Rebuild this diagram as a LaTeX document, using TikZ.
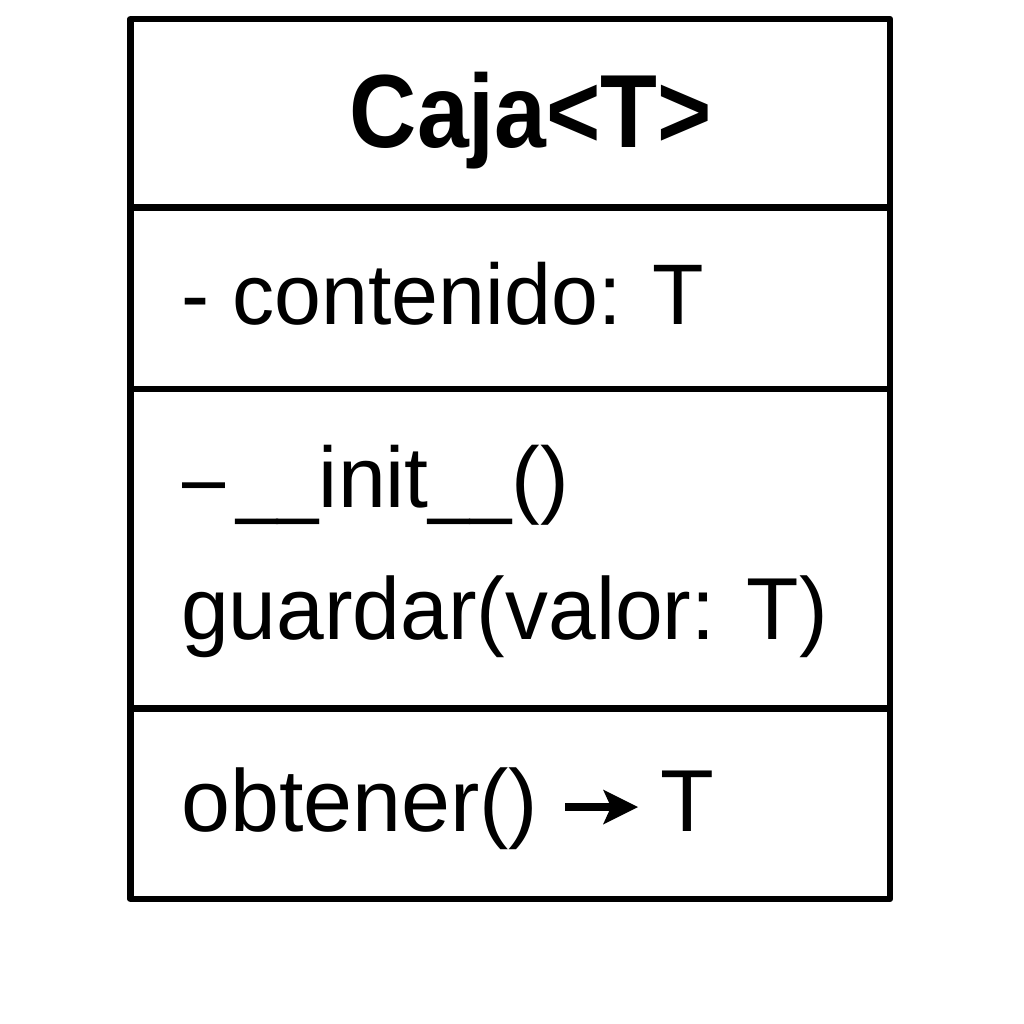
\documentclass[tikz,border=0pt]{standalone}
\usepackage{fontspec}
\usepackage{graphicx}
\setmainfont{Liberation Sans}
\begin{document}
\begin{tikzpicture}[x=1pt,y=-1pt,
  frame/.style={draw=black,line width=6.5pt,line join=round},
  sep/.style={draw=black,line width=6.5pt},
  txt/.style={anchor=base west,inner sep=0pt,font=\fontsize{86}{96}\selectfont},
  ttl/.style={anchor=base,inner sep=0pt,font=\fontsize{104}{114}\selectfont\bfseries},
  shaft/.style={draw=black,line width=8pt},
  head/.style={fill=black}]
\useasboundingbox (0,0) rectangle (1024,1024);
\coordinate (tl) at (130.5,19); \coordinate (br) at (890,899);
\draw[frame] (tl) rectangle (br);
\coordinate (l1) at (130.5,207.5); \coordinate (r1) at (890,207.5);
\coordinate (l2) at (130.5,389); \coordinate (r2) at (890,389);
\coordinate (l3) at (130.5,708.5); \coordinate (r3) at (890,708.5);
\draw[sep] (l1) -- (r1);
\draw[sep] (l2) -- (r2);
\draw[sep] (l3) -- (r3);
\node[ttl] (title) at (531,148) {\scalebox{0.895}[1]{Caja<T>}};
\node[txt] (attr) at (181,324) {\scalebox{0.98}[1]{- contenido: T}};
\node[txt] (m1) at (182,507) {\scalebox{0.9}[1]{–}\kern11pt\scalebox{0.865}[1]{\_\_}init\scalebox{0.865}[1]{\_\_}()};
\node[txt,font=\fontsize{88}{98}\selectfont] (m2) at (181,639) {\scalebox{0.975}[1]{guardar(valor: T)}};
\node[txt,font=\fontsize{88}{98}\selectfont] (m3) at (181,831) {obtener()};
\coordinate (a1) at (565,807); \coordinate (a2) at (612,807);
\coordinate (tip) at (638,807); \coordinate (hb1) at (603,789.5);
\coordinate (hb2) at (603,824.5); \coordinate (notch) at (611,807);
\draw[shaft] (a1) -- (a2);
\fill[head] (tip) -- (hb1) -- (notch) -- (hb2) -- cycle;
\node[txt,font=\fontsize{88}{98}\selectfont] (m3t) at (660,831) {T};
\end{tikzpicture}
\end{document}
